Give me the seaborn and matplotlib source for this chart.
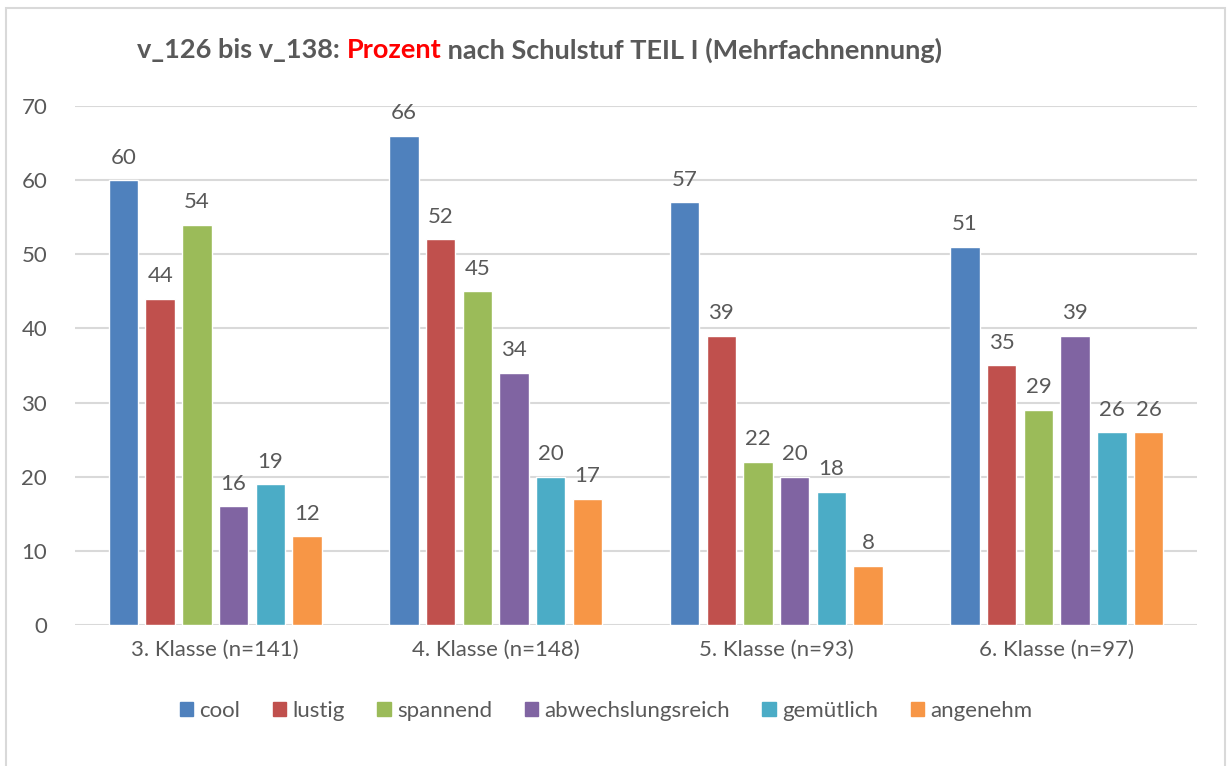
import pandas as pd
import matplotlib.pyplot as plt
import seaborn as sns
from matplotlib.patches import Rectangle

# Daten
klassen = ['3. Klasse (n=141)', '4. Klasse (n=148)', '5. Klasse (n=93)', '6. Klasse (n=97)']
merkmale = ['cool', 'lustig', 'spannend', 'abwechslungsreich', 'gemütlich', 'angenehm']
cool = [60, 66, 57, 51]
lustig = [44, 52, 39, 35]
spannend = [54, 45, 22, 29]
abwechslungsreich = [16, 34, 20, 39]
gemuetlich = [19, 20, 18, 26]
angenehm = [12, 17, 8, 26]
farben = ['#4F81BD', '#C0504D', '#9BBB59', '#8064A2', '#4BACC6', '#F79646']

werte = [cool, lustig, spannend, abwechslungsreich, gemuetlich, angenehm]
rows = []
for m, vals in zip(merkmale, werte):
    for k, v in zip(klassen, vals):
        rows.append({'Klasse': k, 'Merkmal': m, 'Prozent': v})
df = pd.DataFrame(rows)

sns.set_theme(style='white')
plt.rcParams['font.family'] = ['Lato', 'DejaVu Sans']
grau = '#595959'
fs = 16

fig = plt.figure(figsize=(12.27, 7.66), dpi=100)
ax = fig.add_axes([0.0611, 0.1841, 0.9145, 0.6775])

sns.barplot(data=df, x='Klasse', y='Prozent', hue='Merkmal', order=klassen,
            hue_order=merkmale, palette=farben, width=0.785, gap=0.2,
            saturation=1, ax=ax, legend=False)

for cont in ax.containers:
    ax.bar_label(cont, fmt='%d', padding=9, fontsize=fs, color=grau)

ax.set_ylim(0, 70)
ax.set_yticks(range(0, 71, 10))
ax.set_xlim(-0.5, 3.5)
ax.yaxis.grid(True, color='#D9D9D9', linewidth=1.5)
ax.set_axisbelow(True)
for s in ax.spines.values():
    s.set_visible(False)
ax.tick_params(axis='y', length=0, pad=20, labelsize=fs, labelcolor=grau)
ax.tick_params(axis='x', length=0, pad=11, labelsize=fs, labelcolor=grau)
ax.set_xlabel('')
ax.set_ylabel('')

# Legende
handles = [Rectangle((0, 0), 1, 1, color=c) for c in farben]
fig.legend(handles, merkmale, loc='center', bbox_to_anchor=(0.494, 1 - 711 / 766),
           ncol=6, frameon=False, fontsize=fs, labelcolor=grau,
           handlelength=0.6, handleheight=0.6, handletextpad=0.3,
           columnspacing=1.45)

# Titel (zweifarbig)
fig.canvas.draw()
renderer = fig.canvas.get_renderer()
teile = [('v_126 bis v_138: ', grau), ('Prozent', '#FF0000'),
         (' nach Schulstuf TEIL I (Mehrfachnennung)', grau)]
x = 137 / 1227
for txt, col in teile:
    t = fig.text(x, 1 - 50 / 766, txt, color=col, fontsize=19.5, fontweight='bold',
                 va='center', ha='left')
    bb = t.get_window_extent(renderer=renderer)
    x += bb.width / fig.bbox.width

# Rahmen
fig.add_artist(Rectangle((6 / 1227, -0.05), 1219 / 1227, 1.05 - 8 / 766,
                         transform=fig.transFigure, fill=False,
                         edgecolor='#D9D9D9', linewidth=1.5))

fig.savefig('out.png', dpi=100)
